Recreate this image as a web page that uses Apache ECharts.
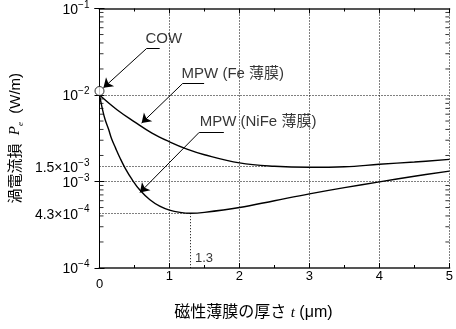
<!DOCTYPE html>
<html><head><meta charset="utf-8">
<script src="https://cdn.jsdelivr.net/npm/echarts@6/dist/echarts.min.js"></script>
<style>html,body{margin:0;padding:0;background:#fff}#c{width:456px;height:329px}</style>
</head><body><div id="c"></div>
<script>
// ---- data ----
const tFe   = [0, 0.25, 0.5, 0.75, 1.0, 1.25, 1.5, 2.0, 2.5, 3.0, 3.5, 4.0, 4.5, 5.0];
const peFe  = [1.0e-2, 6.76e-3, 4.90e-3, 3.63e-3, 2.88e-3, 2.37e-3, 2.04e-3, 1.64e-3, 1.50e-3, 1.46e-3, 1.48e-3, 1.58e-3, 1.68e-3, 1.80e-3];
const tNiFe = [0, 0.04, 0.08, 0.13, 0.17, 0.23, 0.3, 0.37, 0.46, 0.58, 0.72, 0.86, 1.0, 1.15, 1.3, 1.5, 2.0, 2.5, 3.0, 3.5, 4.0, 4.5, 5.0];
const peNiFe= [1.0e-2, 6.96e-3, 5.21e-3, 4.01e-3, 3.16e-3, 2.43e-3, 1.82e-3, 1.41e-3, 1.07e-3, 7.91e-4, 6.15e-4, 5.19e-4, 4.67e-4, 4.40e-4, 4.30e-4, 4.40e-4, 5.0e-4, 6.0e-4, 7.2e-4, 8.5e-4, 9.9e-4, 1.15e-3, 1.32e-3];
const cowPoint = [0, 1.0e-2];
const feMinPe = 1.5e-3, feMinLineEnd = 2.4;
const niMinT = 1.3, niMinPe = 4.3e-4;
const xMin = 0, xMax = 5, yMin = 1e-4, yMax = 1e-1;
const yMinorTicks = [2e-4,3e-4,4e-4,5e-4,6e-4,7e-4,8e-4,9e-4,2e-3,3e-3,4e-3,5e-3,6e-3,7e-3,8e-3,9e-3,2e-2,3e-2,4e-2,5e-2,6e-2,7e-2,8e-2,9e-2];
// annotation labels (text anchor, underline start/end, arrow tip)
const annTexts  = ['COW', 'MPW (Fe 薄膜)', 'MPW (NiFe 薄膜)'];
const annAnchor = [[0.65, 4.5e-2], [1.166, 1.75e-2], [1.425, 4.94e-3]];
const annLineA  = [[0.673, 3.45e-2], [1.185, 1.35e-2], [1.425, 3.7e-3]];
const annLineB  = [[0.86, 3.45e-2], [1.495, 1.35e-2], [1.777, 3.7e-3]];
const annTip    = [[0.056, 1.21e-2], [0.602, 4.73e-3], [0.578, 7.46e-4]];

const FONT = '"Liberation Sans", Arial, "Noto Sans CJK JP", sans-serif';
const rich = {
  b: {fontSize: 14, lineHeight: 17, verticalAlign: 'bottom', fontFamily: FONT, color: '#000'},
  s: {fontSize: 10, lineHeight: 17, verticalAlign: 'top', fontFamily: FONT, color: '#000'}
};
function pow10Label(v) {
  const e = Math.round(Math.log10(v));
  return '{b|10}{s|−' + (-e) + '}';
}
function sciLabel(m, e) { return '{b|' + m + '×10}{s|−' + (-e) + '}'; }

const dotted = {color: '#000', width: 1, type: [1, 2]};

const chart = echarts.init(document.getElementById('c'), null, {renderer: 'canvas'});
const option = {
  animation: false,
  backgroundColor: '#fff',
  grid: {left: 99, right: 3, top: 6, bottom: 61, containLabel: false},
  xAxis: [{
    type: 'value', min: xMin, max: xMax, interval: 1,
    name: '磁性薄膜の厚さ {t|t} (μm)', nameLocation: 'middle', nameGap: 37,
    nameTextStyle: {fontSize: 16, color: '#000', fontFamily: FONT, padding: [0, 42, 0, 0],
      rich: {t: {fontFamily: '"Liberation Serif", serif', fontStyle: 'italic', fontSize: 15, color: '#000'}}},
    axisLine: {lineStyle: {color: '#555', width: 2}},
    axisTick: {inside: true, length: 5, lineStyle: {color: '#000'}},
    minorTick: {show: true, splitNumber: 2, length: 3, lineStyle: {color: '#000'}},
    axisLabel: {fontSize: 13, color: '#000', fontFamily: FONT, margin: 2,
      formatter: v => v === 0 ? '{z|0}' : String(v),
      rich: {z: {fontSize: 13, color: '#000', fontFamily: FONT, padding: [8, 0, 0, 0]}}},
    splitLine: {show: true, lineStyle: dotted}
  }, {
    type: 'value', min: xMin, max: xMax, interval: 1, position: 'top',
    axisLine: {lineStyle: {color: '#555', width: 2}},
    axisTick: {inside: true, length: 5, lineStyle: {color: '#000'}},
    minorTick: {show: true, splitNumber: 2, length: 3, lineStyle: {color: '#000'}},
    axisLabel: {show: false}, splitLine: {show: false}
  }],
  yAxis: [{
    type: 'log', logBase: 10, min: yMin, max: yMax,
    name: '渦電流損  {p|P}{e|e}  (W/m)', nameLocation: 'middle', nameGap: 74,
    nameTextStyle: {fontSize: 15, color: '#000', fontFamily: FONT,
      rich: {
        p: {fontFamily: '"Liberation Serif", serif', fontStyle: 'italic', fontSize: 15, color: '#000', verticalAlign: 'middle', lineHeight: 20},
        e: {fontFamily: '"Liberation Serif", serif', fontStyle: 'italic', fontSize: 9, color: '#000', verticalAlign: 'bottom', lineHeight: 20}
      }},
    axisLine: {lineStyle: {color: '#000', width: 1}},
    axisTick: {inside: true, length: 5, lineStyle: {color: '#000'}},
    axisLabel: {formatter: pow10Label, rich: rich, margin: 10, verticalAlignMaxLabel: 'top'},
    splitLine: {show: true, lineStyle: dotted}
  }, {
    type: 'log', logBase: 10, min: yMin, max: yMax, position: 'right',
    axisLine: {lineStyle: {color: '#000', width: 1}},
    axisTick: {inside: true, length: 5, lineStyle: {color: '#000'}},
    axisLabel: {show: false}, splitLine: {show: false}
  }],
  series: [
    {
      name: 'Fe', type: 'line', xAxisIndex: 0, yAxisIndex: 0, smooth: 0.4, symbol: 'none',
      lineStyle: {color: '#000', width: 1.4}, z: 5,
      data: tFe.map((t, i) => [t, peFe[i]])
    },
    {
      name: 'NiFe', type: 'line', xAxisIndex: 0, yAxisIndex: 0, smooth: 0.4, symbol: 'none',
      lineStyle: {color: '#000', width: 1.4}, z: 5,
      data: tNiFe.map((t, i) => [t, peNiFe[i]])
    },
    {
      name: 'refs', type: 'line', data: [], z: 3,
      markLine: {
        silent: true, symbol: 'none', animation: false,
        lineStyle: dotted,
        label: {show: true, position: 'start', distance: 10, rich: rich, color: '#000'},
        data: [
          [{coord: [xMin, feMinPe], label: {formatter: sciLabel('1.5', -3)}}, {coord: [feMinLineEnd, feMinPe]}],
          [{coord: [xMin, niMinPe], label: {formatter: sciLabel('4.3', -4)}}, {coord: [niMinT, niMinPe]}],
          [{coord: [niMinT, niMinPe], label: {show: false}}, {coord: [niMinT, yMin]}]
        ]
      }
    },
    {
      name: 'leaders', type: 'line', data: [], z: 6,
      markLine: {
        silent: true, animation: false, symbol: 'none', symbolSize: 9,
        lineStyle: {color: '#000', width: 1, type: 'solid'},
        label: {show: false},
        data: annLineA.map((a, i) => [{coord: a}, {coord: annLineB[i]}]).concat(
          annLineA.map((a, i) => [{coord: a, symbol: 'none'}, {coord: annTip[i], symbol: 'arrow', symbolSize: 9}]))
      }
    },
    {
      name: 'annText', type: 'scatter', symbolSize: 1, z: 7, silent: true,
      itemStyle: {color: 'rgba(0,0,0,0)'},
      label: {show: true, position: 'right', distance: 0, fontSize: 15, color: '#000', fontFamily: FONT,
        formatter: p => p.name},
      data: annTexts.map((s, i) => ({name: s, value: annAnchor[i]}))
    },
    {
      name: 'minLabel', type: 'scatter', symbolSize: 1, z: 7, silent: true,
      itemStyle: {color: 'rgba(0,0,0,0)'},
      label: {show: true, position: 'right', distance: 4, fontSize: 13, color: '#000', fontFamily: FONT,
        formatter: p => String(p.value[0])},
      data: [[niMinT, 1.3e-4]]
    },
    {
      name: 'minorL', type: 'scatter', symbol: 'rect', symbolSize: [4, 1], symbolOffset: [2, 0],
      itemStyle: {color: '#000'}, silent: true, z: 4,
      data: yMinorTicks.map(v => [xMin, v])
    },
    {
      name: 'minorR', type: 'scatter', symbol: 'rect', symbolSize: [4, 1], symbolOffset: [-2, 0],
      itemStyle: {color: '#000'}, silent: true, z: 4,
      data: yMinorTicks.map(v => [xMax, v])
    },
    {
      name: 'COW', type: 'scatter', symbol: 'circle', symbolSize: 9, symbolOffset: [0, -4], z: 8, silent: true,
      itemStyle: {color: '#fff', borderColor: '#000', borderWidth: 1},
      data: [cowPoint]
    }
  ]
};
chart.setOption(option);
</script>
</body></html>
